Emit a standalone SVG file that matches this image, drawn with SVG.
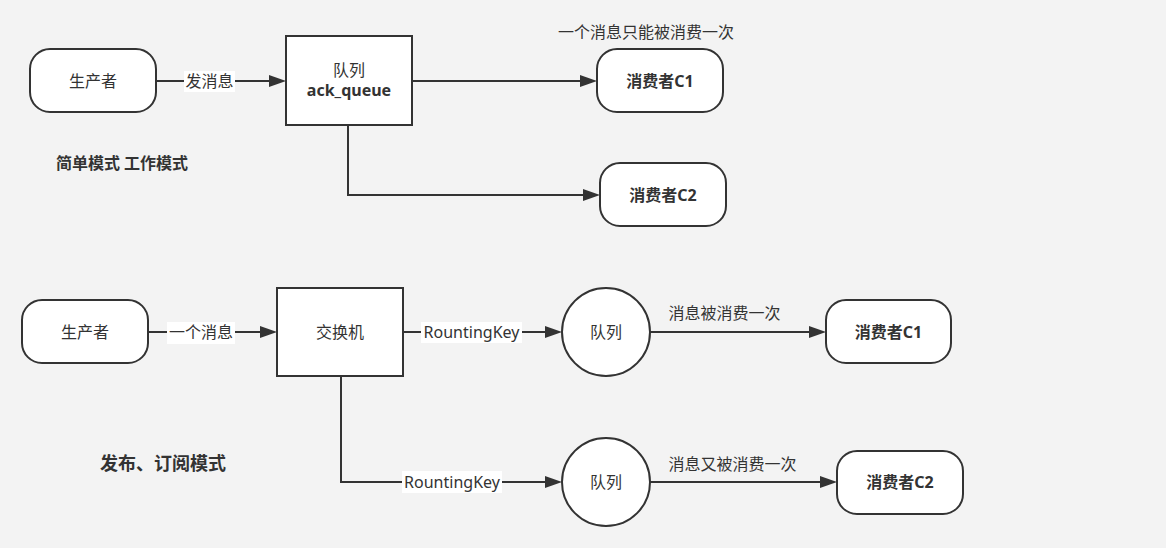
<svg xmlns="http://www.w3.org/2000/svg" width="1166" height="548" viewBox="0 0 1166 548">
<style>
.shape{fill:#ffffff;stroke:#333333;stroke-width:2}
.edge{fill:none;stroke:#333333;stroke-width:2}
.t{font-family:'Noto Sans','Noto Sans CJK SC',sans-serif;font-size:16px;fill:#333333;text-anchor:middle}
.b{font-weight:bold}
.lbg{fill:#ffffff}
</style>
<defs>
<marker id="arr" markerUnits="userSpaceOnUse" markerWidth="17" markerHeight="12" refX="14" refY="6" orient="auto">
<path d="M0,0 L17,6 L0,12 Z" fill="#333333"/>
</marker>
</defs>
<rect width="1166" height="548" fill="#f3f3f3"/>

<g id="connectors">
<path class="edge" d="M156,81 L283,81" marker-end="url(#arr)"/>
<path class="edge" d="M412,81 L594,81" marker-end="url(#arr)"/>
<path class="edge" d="M348,125 L348,195 L597,195" marker-end="url(#arr)"/>
<path class="edge" d="M148,332 L274,332" marker-end="url(#arr)"/>
<path class="edge" d="M403,332 L559,332" marker-end="url(#arr)"/>
<path class="edge" d="M341,376 L341,482 L559,482" marker-end="url(#arr)"/>
<path class="edge" d="M650,332 L823,332" marker-end="url(#arr)"/>
<path class="edge" d="M650,482 L834,482" marker-end="url(#arr)"/>
<g id="edge-labels">
<rect class="lbg" x="184" y="71" width="51" height="21"/>
<text class="t" x="209.5" y="87">发消息</text>
<rect class="lbg" x="167" y="322" width="68" height="22"/>
<text class="t" x="201" y="338">一个消息</text>
<rect class="lbg" x="421" y="322" width="101" height="21"/>
<text class="t" x="471.5" y="338">RountingKey</text>
<rect class="lbg" x="402" y="471" width="100" height="22"/>
<text class="t" x="452" y="488">RountingKey</text>
<text class="t" x="724.5" y="319">消息被消费一次</text>
<text class="t" x="732.5" y="470">消息又被消费一次</text>
</g>
</g>

<g id="producer1">
<rect class="shape" x="30" y="49" width="126" height="63" rx="20" ry="20"/>
<text class="t" x="93" y="87">生产者</text>
</g>
<g id="queue-ack">
<rect class="shape" x="286" y="36" width="126" height="89"/>
<text class="t" x="349" y="76">队列</text>
<text class="t b" x="349" y="96">ack_queue</text>
</g>
<g id="consumer1-top">
<rect class="shape" x="597" y="49" width="126" height="63" rx="20" ry="20"/>
<text class="t b" x="660" y="87">消费者C1</text>
</g>
<g id="consumer2-top">
<rect class="shape" x="600" y="163" width="126" height="63" rx="20" ry="20"/>
<text class="t b" x="663" y="201">消费者C2</text>
</g>
<g id="note-top">
<text class="t" x="646" y="38">一个消息只能被消费一次</text>
</g>
<g id="title-simple">
<text class="t b" x="122" y="169">简单模式 工作模式</text>
</g>

<g id="producer2">
<rect class="shape" x="22" y="300" width="126" height="63" rx="20" ry="20"/>
<text class="t" x="85" y="338">生产者</text>
</g>
<g id="exchange">
<rect class="shape" x="277" y="288" width="126" height="88"/>
<text class="t" x="340" y="338">交换机</text>
</g>
<g id="queue1">
<circle class="shape" cx="606" cy="332" r="44"/>
<text class="t" x="606" y="338">队列</text>
</g>
<g id="queue2">
<circle class="shape" cx="606" cy="482" r="44"/>
<text class="t" x="606" y="488">队列</text>
</g>
<g id="consumer1-bottom">
<rect class="shape" x="826" y="300" width="125" height="63" rx="20" ry="20"/>
<text class="t b" x="888.5" y="338">消费者C1</text>
</g>
<g id="consumer2-bottom">
<rect class="shape" x="837" y="451" width="126" height="63" rx="20" ry="20"/>
<text class="t b" x="900" y="488">消费者C2</text>
</g>
<g id="title-pubsub">
<text class="t b" x="163" y="470" style="font-size:18px">发布、订阅模式</text>
</g>
</svg>
